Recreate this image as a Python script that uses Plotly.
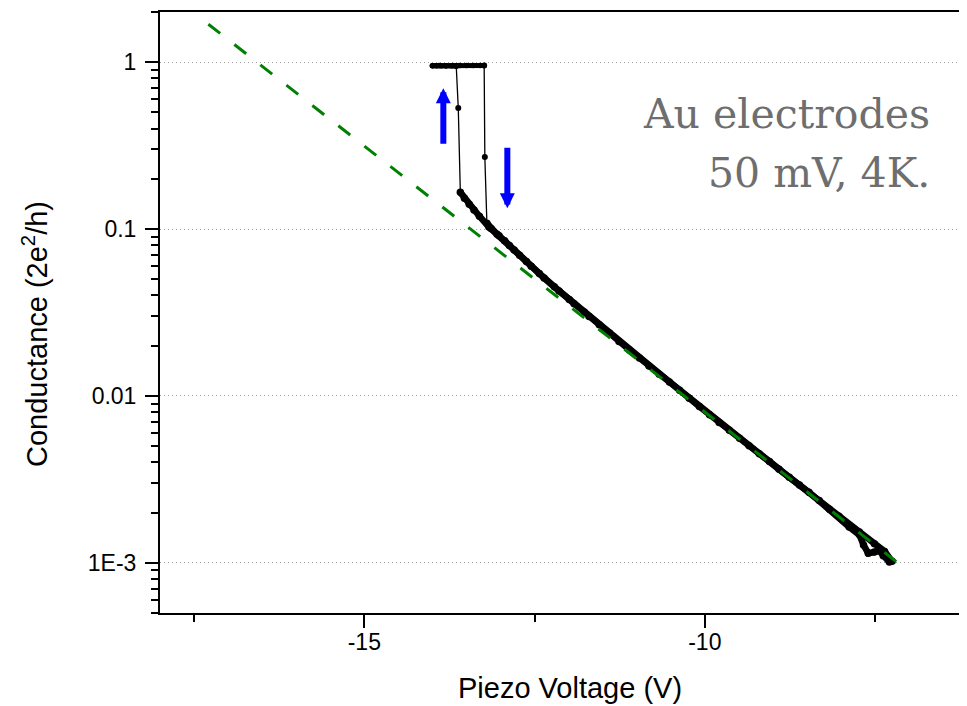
import plotly.graph_objects as go

# ---------------- data ----------------
# Approach sweep (conductance rises, up arrow): tunnelling curve from low G up to the jump
approach_curve_v = [-7.29, -7.38, -7.44, -7.51, -7.60, -7.67, -7.73, -7.88, -8.17, -8.47,
                    -8.76, -9.05, -9.35, -9.64, -9.93, -10.23, -10.52, -10.82, -11.11, -11.40,
                    -11.70, -11.92, -12.14, -12.36, -12.55, -12.72, -12.87, -13.02, -13.17,
                    -13.31, -13.39, -13.46, -13.53, -13.59]
approach_curve_g = [0.00101, 0.00110, 0.00118, 0.00116, 0.00114, 0.00128, 0.00147, 0.00164,
                    0.00209, 0.00265, 0.00326, 0.00404, 0.00502, 0.00622, 0.00771, 0.00967,
                    0.0121, 0.0151, 0.0189, 0.0238, 0.0299, 0.0357, 0.0426, 0.0509, 0.0599,
                    0.0697, 0.0797, 0.0912, 0.103, 0.1195, 0.130, 0.141, 0.153, 0.166]
approach_jump_v = [-13.59, -13.62, -13.65]
approach_jump_g = [0.166, 0.532, 0.950]
approach_plateau_v = [-13.65, -13.72, -13.80, -13.87, -13.94, -14.00]
approach_plateau_g = [0.950, 0.951, 0.952, 0.953, 0.953, 0.954]

# Retract sweep (conductance drops, down arrow)
retract_plateau_v = [-14.00, -13.90, -13.80, -13.70, -13.60, -13.50, -13.40, -13.30, -13.24]
retract_plateau_g = [0.953, 0.955, 0.954, 0.955, 0.956, 0.955, 0.955, 0.956, 0.956]
retract_jump_v = [-13.24, -13.23, -13.20]
retract_jump_g = [0.956, 0.270, 0.1085]
retract_curve_v = [-13.20, -13.14, -13.05, -12.94, -12.80, -12.62, -12.43, -12.21, -11.99,
                   -11.77, -11.55, -11.26, -10.96, -10.67, -10.37, -10.08, -9.79, -9.49,
                   -9.20, -8.91, -8.61, -8.32, -8.03, -7.73, -7.51, -7.36, -7.25]
retract_curve_g = [0.1085, 0.1008, 0.0931, 0.0852, 0.0749, 0.0640, 0.0542, 0.0451, 0.0379,
                   0.0318, 0.0267, 0.0212, 0.0169, 0.0135, 0.0108, 0.00865, 0.00692, 0.00558,
                   0.00450, 0.00363, 0.00292, 0.00236, 0.00190, 0.00153, 0.00130, 0.00117,
                   0.00102]

# Exponential fit (green dashed line)
fit_v = [-17.29, -7.14]
fit_g = [1.69, 0.00098]

x_tick_vals = [-15, -10]
x_tick_text = ["-15", "-10"]
x_minor_vals = [-17.5, -12.5, -7.5]
y_tick_vals = [0.001, 0.01, 0.1, 1]
y_tick_text = ["1E-3", "0.01", "0.1", "1"]
y_minor_vals = [k * 10.0 ** e for e in range(-4, 1) for k in range(2, 10)]

note_line1 = "Au electrodes"
note_line2 = "50 mV, 4K."
x_title = "Piezo Voltage (V)"
y_title = "Conductance (2e<sup>2</sup>/h)"

# ---------------- figure ----------------
fig = go.Figure()

thick = dict(mode="lines+markers", line=dict(color="black", width=6.5),
             marker=dict(color="black", size=7.5), showlegend=False, hoverinfo="skip")
plateau = dict(mode="lines+markers", line=dict(color="black", width=5),
               marker=dict(color="black", size=5.5), showlegend=False, hoverinfo="skip")
thin = dict(mode="lines+markers", line=dict(color="black", width=1.3),
            marker=dict(color="black", size=6), showlegend=False, hoverinfo="skip")

fig.add_trace(go.Scatter(x=approach_curve_v, y=approach_curve_g, **thick))
fig.add_trace(go.Scatter(x=approach_jump_v, y=approach_jump_g, **thin))
fig.add_trace(go.Scatter(x=approach_plateau_v, y=approach_plateau_g, **plateau))
fig.add_trace(go.Scatter(x=retract_plateau_v, y=retract_plateau_g, **plateau))
fig.add_trace(go.Scatter(x=retract_jump_v, y=retract_jump_g, **thin))
fig.add_trace(go.Scatter(x=retract_curve_v, y=retract_curve_g, **thick))

fig.add_trace(go.Scatter(x=fit_v, y=fit_g, mode="lines",
                         line=dict(color="#008000", width=3, dash="15px,18px"),
                         showlegend=False, hoverinfo="skip"))

axis_font = dict(family="Liberation Sans, Arial, sans-serif", size=23, color="black")
title_font = dict(family="Liberation Sans, Arial, sans-serif", size=29, color="black")

# the page body adds an 8px offset, so the figure is 8px smaller than the window
fig.update_layout(
    width=959, height=698,
    margin=dict(l=152, r=0, t=4, b=93),
    paper_bgcolor="white", plot_bgcolor="white",
    showlegend=False,
    xaxis=dict(
        range=[-18.0, -6.15], showgrid=False, zeroline=False,
        showline=True, linecolor="black", linewidth=2, mirror=True,
        ticks="outside", ticklen=13, tickwidth=2, tickcolor="black",
        tickmode="array", tickvals=x_tick_vals, ticktext=x_tick_text,
        tickfont=axis_font, ticklabelstandoff=-6,
        minor=dict(tickmode="array", tickvals=x_minor_vals, ticks="outside",
                   ticklen=7, tickwidth=2, tickcolor="black", showgrid=False),
    ),
    yaxis=dict(
        type="log", range=[-3.30103, 0.30103], zeroline=False,
        showline=True, linecolor="black", linewidth=2,
        showgrid=True, gridcolor="#a0a0a0", gridwidth=1, griddash="1px,3px",
        ticks="outside", ticklen=13, tickwidth=2, tickcolor="black",
        tickmode="array", tickvals=y_tick_vals, ticktext=y_tick_text,
        tickfont=axis_font, ticklabelstandoff=4,
        minor=dict(tickmode="array", tickvals=y_minor_vals, ticks="outside",
                   ticklen=7, tickwidth=2, tickcolor="black", showgrid=False),
    ),
)

ann = []
# axis titles
ann.append(dict(text=x_title, xref="paper", yref="paper", x=0.508, y=-0.1248,
                xanchor="center", yanchor="middle", showarrow=False, font=title_font))
ann.append(dict(text=y_title, xref="paper", yref="paper", x=-0.1549, y=0.4642,
                xanchor="center", yanchor="middle", textangle=-90, showarrow=False,
                font=title_font))
# note text
note_font = dict(family="DejaVu Serif, Georgia, serif", size=41, color="#6e6e6e")
ann.append(dict(text=note_line1, xref="paper", yref="paper", x=0.9566, y=0.8309,
                xanchor="right", yanchor="middle", showarrow=False, font=note_font))
ann.append(dict(text=note_line2, xref="paper", yref="paper", x=0.9566, y=0.7328,
                xanchor="right", yanchor="middle", showarrow=False, font=note_font))
# blue arrows
ann.append(dict(text="", xref="paper", yref="paper", x=0.3511, y=0.8730,
                ax=0, ay=57, showarrow=True, arrowhead=2, arrowsize=0.5,
                arrowwidth=6, arrowcolor="#0000ff"))
ann.append(dict(text="", xref="paper", yref="paper", x=0.4304, y=0.6734,
                ax=0, ay=-62, showarrow=True, arrowhead=2, arrowsize=0.5,
                arrowwidth=6, arrowcolor="#0000ff"))
fig.update_layout(annotations=ann)

fig.write_html("out.html")
